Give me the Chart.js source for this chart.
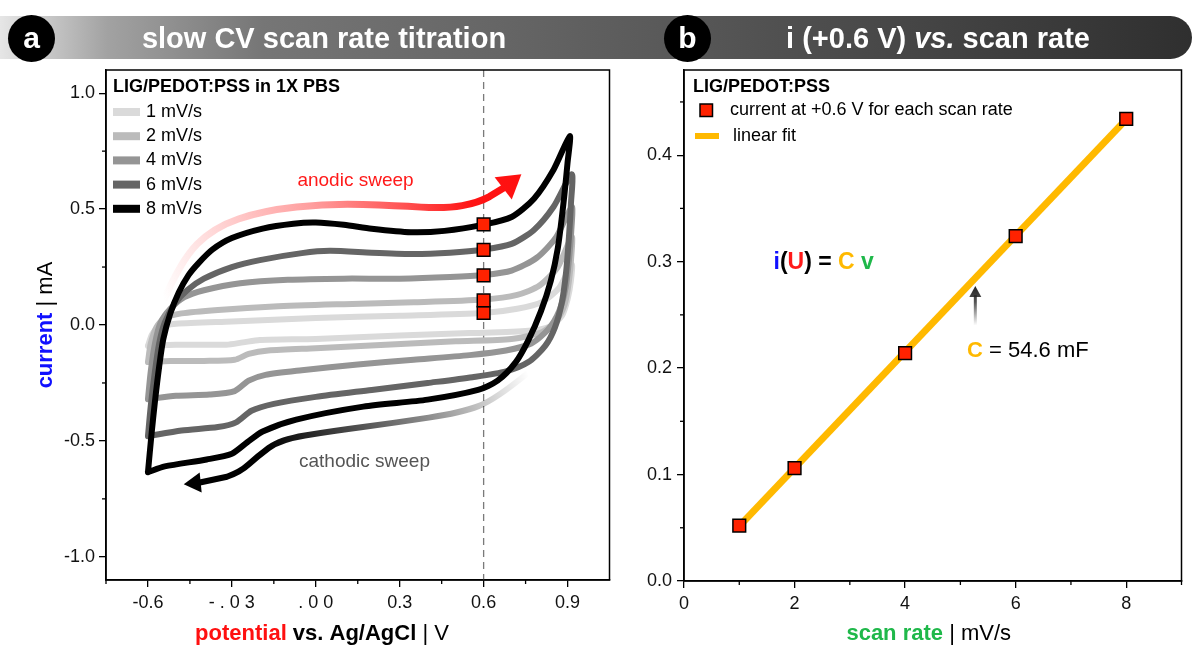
<!DOCTYPE html>
<html>
<head>
<meta charset="utf-8">
<script src="https://cdn.jsdelivr.net/npm/chart.js@4.4.0/dist/chart.umd.min.js"></script>
<style>
  html, body { margin: 0; padding: 0; background: #fff; width: 1192px; height: 648px; overflow: hidden; }
  body { font-family: "Liberation Sans", Arial, sans-serif; position: relative; }
  #ca { position: absolute; left: 0; top: 0; }
  #cb { position: absolute; left: 620px; top: 0; }
  .bar { position: absolute; left: 0; top: 16px; width: 1192px; height: 43px; border-radius: 0 22px 22px 0;
         background: linear-gradient(90deg, #e6e6e6 0%, #a2a2a2 9%, #767676 22%, #636363 45%, #4c4c4c 70%, #2f2f2f 100%); }
  .badge { position: absolute; top: 15px; width: 47px; height: 47px; border-radius: 50%; background: #000; color: #fff;
           font: bold 30px "Liberation Sans", Arial, sans-serif; text-align: center; line-height: 45px; }
  .ttl { position: absolute; top: 22px; height: 34px; line-height: 34px; color: #fff; white-space: nowrap;
         font: bold 29px "Liberation Sans", Arial, sans-serif; transform: translateX(-50%); }
</style>
</head>
<body>
<canvas id="ca" width="620" height="648"></canvas>
<canvas id="cb" width="572" height="648"></canvas>
<div class="bar"></div>
<div class="badge" style="left:8px">a</div>
<div class="ttl" style="left:324px">slow CV scan rate titration</div>
<div class="badge" style="left:664px">b</div>
<div class="ttl" style="left:938px">i (+0.6 V) <i>vs.</i> scan rate</div>
<script>
// ---- data: CV loops (potential V vs Ag/AgCl, current mA) ----
const scanRateLabels = ['1 mV/s', '2 mV/s', '4 mV/s', '6 mV/s', '8 mV/s'];

const cv1Potential = [-0.6, -0.585, -0.56, -0.5, -0.3, 0.0, 0.3, 0.6, 0.72, 0.81, 0.87, 0.915,
  0.912, 0.9, 0.88, 0.84, 0.76, 0.55, 0.3, 0.0, -0.2, -0.26, -0.32, -0.5, -0.6];
const cv1Current = [-0.09, -0.04, -0.01, 0.005, 0.015, 0.03, 0.04, 0.052, 0.07, 0.1, 0.16, 0.26,
  0.19, 0.11, 0.04, -0.005, -0.025, -0.035, -0.045, -0.06, -0.065, -0.075, -0.085, -0.085, -0.09];

const cv2Potential = [-0.6, -0.59, -0.57, -0.54, -0.48, -0.35, -0.15, 0.1, 0.35, 0.6, 0.72, 0.8, 0.865, 0.915,
  0.913, 0.905, 0.89, 0.86, 0.81, 0.7, 0.5, 0.25, 0.0, -0.17, -0.24, -0.29, -0.4, -0.52, -0.6];
const cv2Current = [-0.16, -0.08, -0.01, 0.03, 0.05, 0.065, 0.08, 0.09, 0.098, 0.11, 0.13, 0.17, 0.25, 0.38,
  0.29, 0.19, 0.09, 0.02, -0.03, -0.06, -0.07, -0.085, -0.1, -0.11, -0.125, -0.15, -0.155, -0.155, -0.16];

const cv4Potential = [-0.6, -0.59, -0.575, -0.555, -0.52, -0.47, -0.4, -0.27, -0.1, 0.1, 0.3, 0.48, 0.6, 0.7, 0.79, 0.86, 0.915,
  0.913, 0.905, 0.893, 0.87, 0.83, 0.77, 0.68, 0.55, 0.35, 0.15, -0.05, -0.18, -0.24, -0.29, -0.38, -0.5, -0.6];
const cv4Current = [-0.32, -0.2, -0.08, 0.01, 0.07, 0.12, 0.15, 0.18, 0.195, 0.2, 0.2, 0.207, 0.216, 0.235, 0.29, 0.38, 0.51,
  0.4, 0.28, 0.16, 0.06, -0.02, -0.08, -0.11, -0.13, -0.15, -0.17, -0.195, -0.215, -0.24, -0.285, -0.3, -0.305, -0.32];

const cv6Potential = [-0.6, -0.59, -0.575, -0.56, -0.54, -0.505, -0.46, -0.4, -0.3, -0.2, -0.05, 0.05, 0.2, 0.35, 0.48, 0.6, 0.7, 0.78, 0.85, 0.915,
  0.912, 0.905, 0.895, 0.88, 0.855, 0.82, 0.76, 0.68, 0.56, 0.4, 0.2, 0.0, -0.15, -0.23, -0.285, -0.35, -0.48, -0.6];
const cv6Current = [-0.48, -0.35, -0.2, -0.08, 0.01, 0.09, 0.15, 0.2, 0.25, 0.28, 0.31, 0.32, 0.312, 0.306, 0.312, 0.326, 0.35, 0.41, 0.51, 0.65,
  0.52, 0.38, 0.23, 0.1, -0.01, -0.09, -0.16, -0.2, -0.225, -0.25, -0.28, -0.31, -0.34, -0.37, -0.42, -0.44, -0.455, -0.48];

const cv8Potential = [-0.6, -0.588, -0.575, -0.56, -0.545, -0.52, -0.49, -0.455, -0.42, -0.37, -0.3, -0.19, -0.08, 0.0, 0.1, 0.2, 0.34, 0.46, 0.6, 0.7, 0.78, 0.85, 0.908,
  0.9, 0.885, 0.865, 0.84, 0.805, 0.76, 0.715, 0.65, 0.58, 0.4, 0.17, -0.07, -0.19, -0.245, -0.3, -0.39, -0.54, -0.6];
const cv8Current = [-0.635, -0.48, -0.33, -0.18, -0.06, 0.05, 0.14, 0.215, 0.266, 0.325, 0.375, 0.416, 0.437, 0.442, 0.432, 0.415, 0.4, 0.406, 0.433, 0.466, 0.545, 0.67, 0.815,
  0.7, 0.52, 0.33, 0.19, 0.06, -0.065, -0.16, -0.24, -0.28, -0.322, -0.352, -0.408, -0.459, -0.506, -0.555, -0.58, -0.61, -0.635];

// ---- data: current at +0.6 V vs scan rate ----
const samplePotential = 0.6;
const scanRates = [1, 2, 4, 6, 8];
const currentAt06 = [0.052, 0.106, 0.214, 0.324, 0.434];
const fitRates = [1, 8];
const fitCurrent = [0.0515, 0.4337];

// ---- ticks ----
const potentialTicks = [-0.6, -0.3, 0.0, 0.3, 0.6, 0.9];
const potentialTickLabels = ['-0.6', '- . 0 3', '. 0 0', '0.3', '0.6', '0.9'];
const potentialMinor = [-0.75, -0.45, -0.15, 0.15, 0.45, 0.75];
const currentTicks = [-1.0, -0.5, 0.0, 0.5, 1.0];
const currentMinor = [-0.75, -0.25, 0.25, 0.75];
const rateTicks = [0, 2, 4, 6, 8];
const rateMinor = [1, 3, 5, 7, 9];
const i06Ticks = [0, 0.1, 0.2, 0.3, 0.4];
const i06Minor = [0.05, 0.15, 0.25, 0.35, 0.45];

// ---- annotation paths (data units) ----
const anodicPotential = [-0.543, -0.482, -0.365, -0.188, 0.05, 0.287, 0.465, 0.582, 0.66, 0.735];
const anodicCurrent = [0.107, 0.279, 0.421, 0.494, 0.524, 0.515, 0.502, 0.528, 0.58, 0.65];
const cathodicPotential = [0.759, 0.642, 0.521, 0.287, 0.05, -0.128, -0.209, -0.27, -0.365, -0.472];
const cathodicCurrent = [-0.206, -0.322, -0.378, -0.421, -0.459, -0.494, -0.567, -0.635, -0.674, -0.687];

// ---- styles ----
const FONT = '"Liberation Sans", Arial, sans-serif';
const cvColors = ['#dadada', '#bbbbbb', '#959595', '#656565', '#000000'];
const RED = '#ff2200';
const ORANGE = '#ffb900';
const GREEN = '#1fb84a';
const BLUE = '#1010ff';

Chart.defaults.font.family = FONT;
Chart.defaults.font.size = 18;
Chart.defaults.color = '#111';

const pts = (xs, ys) => xs.map((x, i) => ({ x, y: ys[i] }));

function richText(ctx, parts, x, y, align) {
  ctx.save();
  ctx.textBaseline = 'middle';
  ctx.textAlign = 'left';
  let total = 0;
  parts.forEach(p => { ctx.font = p[1]; total += ctx.measureText(p[0]).width; });
  let cx = align === 'center' ? x - total / 2 : x;
  parts.forEach(p => {
    ctx.font = p[1];
    ctx.fillStyle = p[2];
    ctx.fillText(p[0], cx, y);
    cx += ctx.measureText(p[0]).width;
  });
  ctx.restore();
}

function frame(chart, xMinor, yMinor) {
  const { ctx, chartArea: a, scales } = chart;
  ctx.save();
  ctx.strokeStyle = '#000';
  ctx.lineWidth = 1.5;
  ctx.strokeRect(a.left, a.top, a.width, a.height);
  ctx.lineWidth = 1.3;
  xMinor.forEach(v => {
    const p = scales.x.getPixelForValue(v);
    ctx.beginPath(); ctx.moveTo(p, a.bottom); ctx.lineTo(p, a.bottom + 4); ctx.stroke();
  });
  yMinor.forEach(v => {
    const p = scales.y.getPixelForValue(v);
    ctx.beginPath(); ctx.moveTo(a.left, p); ctx.lineTo(a.left - 4, p); ctx.stroke();
  });
  ctx.restore();
}

function gradientArrow(chart, xs, ys, stops, width, headLen, headHalf) {
  const { ctx, scales } = chart;
  const p = xs.map((v, i) => [scales.x.getPixelForValue(v), scales.y.getPixelForValue(ys[i])]);
  const n = p.length;
  const tip = p[n - 1], prev = p[n - 2];
  const dx = tip[0] - prev[0], dy = tip[1] - prev[1];
  const len = Math.hypot(dx, dy);
  const ux = dx / len, uy = dy / len;
  const base = [tip[0] - ux * headLen, tip[1] - uy * headLen];
  const g = ctx.createLinearGradient(p[0][0], p[0][1], tip[0], tip[1]);
  stops.forEach(s => g.addColorStop(s[0], s[1]));
  ctx.save();
  ctx.strokeStyle = g;
  ctx.fillStyle = g;
  ctx.lineWidth = width;
  ctx.lineCap = 'butt';
  ctx.lineJoin = 'round';
  ctx.beginPath();
  ctx.moveTo(p[0][0], p[0][1]);
  for (let i = 1; i < n - 2; i++) {
    const mx = (p[i][0] + p[i + 1][0]) / 2, my = (p[i][1] + p[i + 1][1]) / 2;
    ctx.quadraticCurveTo(p[i][0], p[i][1], mx, my);
  }
  ctx.lineTo(base[0] + ux * 2, base[1] + uy * 2);
  ctx.stroke();
  ctx.beginPath();
  ctx.moveTo(tip[0], tip[1]);
  ctx.lineTo(base[0] - uy * headHalf, base[1] + ux * headHalf);
  ctx.lineTo(base[0] + uy * headHalf, base[1] - ux * headHalf);
  ctx.closePath();
  ctx.fill();
  ctx.restore();
}

// ── panel a: CV loops
const cvSeries = [
  [cv1Potential, cv1Current], [cv2Potential, cv2Current], [cv4Potential, cv4Current],
  [cv6Potential, cv6Current], [cv8Potential, cv8Current]
];

const cvDecor = {
  id: 'cvDecor',
  beforeDatasetsDraw(chart) {
    const { ctx, chartArea: a, scales } = chart;
    const px = scales.x.getPixelForValue(samplePotential);
    ctx.save();
    ctx.strokeStyle = '#7a7a7a';
    ctx.lineWidth = 1.3;
    ctx.setLineDash([7, 5]);
    ctx.beginPath(); ctx.moveTo(px, a.top); ctx.lineTo(px, a.bottom); ctx.stroke();
    ctx.restore();
  },
  afterDatasetsDraw(chart) {
    const { ctx, scales } = chart;
    gradientArrow(chart, anodicPotential, anodicCurrent,
      [[0, 'rgba(255,40,40,0)'], [0.45, 'rgba(255,40,40,0.45)'], [0.85, 'rgba(255,20,20,1)'], [1, '#ff1010']], 7, 23, 14);
    gradientArrow(chart, cathodicPotential, cathodicCurrent,
      [[0, 'rgba(0,0,0,0)'], [0.3, 'rgba(0,0,0,0.45)'], [0.75, 'rgba(0,0,0,1)'], [1, '#000']], 6, 17, 10);
    ctx.save();
    ctx.font = `19px ${FONT}`;
    ctx.textAlign = 'center';
    ctx.textBaseline = 'middle';
    ctx.fillStyle = '#ff1a1a';
    ctx.fillText('anodic sweep', scales.x.getPixelForValue(0.142), scales.y.getPixelForValue(0.622));
    ctx.fillStyle = '#555';
    ctx.fillText('cathodic sweep', scales.x.getPixelForValue(0.174), scales.y.getPixelForValue(-0.592));
    ctx.restore();
  },
  afterDraw(chart) {
    const { ctx, chartArea: a } = chart;
    frame(chart, potentialMinor, currentMinor);
    // legend
    ctx.save();
    ctx.textBaseline = 'middle';
    ctx.textAlign = 'left';
    ctx.fillStyle = '#000';
    ctx.font = `bold 18px ${FONT}`;
    ctx.fillText('LIG/PEDOT:PSS in 1X PBS', a.left + 7, a.top + 17);
    ctx.font = `18px ${FONT}`;
    scanRateLabels.forEach((lab, i) => {
      const y = a.top + 42 + i * 24.2;
      ctx.fillStyle = cvColors[i];
      ctx.fillRect(a.left + 7, y - 4, 27, 8);
      ctx.fillStyle = '#000';
      ctx.fillText(lab, a.left + 40, y);
    });
    ctx.restore();
    // axis titles
    richText(ctx, [['potential', `bold 22px ${FONT}`, '#ff1010'], [' vs. Ag/AgCl', `bold 22px ${FONT}`, '#000'],
      [' | V', `22px ${FONT}`, '#000']], 322, 634, 'center');
    ctx.save();
    ctx.translate(46, (a.top + a.bottom) / 2);
    ctx.rotate(-Math.PI / 2);
    richText(ctx, [['current', `bold 22px ${FONT}`, BLUE], [' | mA', `22px ${FONT}`, '#000']], 0, 0, 'center');
    ctx.restore();
  }
};

const axisBase = {
  grid: { drawOnChartArea: false, drawTicks: true, tickLength: 7, color: '#000', lineWidth: 1.3 },
  border: { display: true, color: '#000', width: 1.5 }
};

new Chart(document.getElementById('ca'), {
  type: 'scatter',
  data: {
    datasets: cvSeries.map((s, i) => ({
      label: scanRateLabels[i],
      data: pts(s[0], s[1]),
      showLine: true,
      borderColor: cvColors[i],
      borderWidth: 6,
      borderJoinStyle: 'round',
      borderCapStyle: 'round',
      pointRadius: 0,
      tension: 0.25,
      order: 10 - i
    })).concat([{
      label: 'i at +0.6 V',
      data: pts(scanRates.map(() => samplePotential), currentAt06),
      pointStyle: 'rect',
      pointRadius: 9,
      backgroundColor: RED,
      borderColor: '#000',
      borderWidth: 1.5,
      showLine: false,
      order: 0
    }])
  },
  options: {
    responsive: false,
    devicePixelRatio: 1,
    animation: false,
    events: [],
    layout: { padding: { top: 70, right: 8, left: 0, bottom: 0 } },
    plugins: { legend: { display: false }, tooltip: { enabled: false } },
    scales: {
      x: {
        ...axisBase, min: -0.75, max: 1.05,
        afterFit: s => { s.height = 68; },
        afterBuildTicks: s => { s.ticks = potentialTicks.map(v => ({ value: v })); },
        ticks: { padding: 5, maxRotation: 0, autoSkip: false, color: '#111', callback: (v, i) => potentialTickLabels[i] }
      },
      y: {
        ...axisBase, min: -1.1, max: 1.1,
        afterFit: s => { s.width = 106; },
        afterBuildTicks: s => { s.ticks = currentTicks.map(v => ({ value: v })); },
        ticks: { padding: 4, autoSkip: false, color: '#111', callback: v => v.toFixed(1) }
      }
    }
  },
  plugins: [cvDecor]
});

// ── panel b: current at +0.6 V vs scan rate
const rateDecor = {
  id: 'rateDecor',
  afterDatasetsDraw(chart) {
    const { ctx, scales } = chart;
    gradientArrow(chart, [5.27, 5.27], [0.24, 0.277],
      [[0, 'rgba(40,40,40,0)'], [0.6, 'rgba(40,40,40,0.8)'], [1, '#222']], 3, 11, 6);
    richText(ctx, [['i', `bold 23px ${FONT}`, BLUE], ['(', `bold 23px ${FONT}`, '#000'], ['U', `bold 23px ${FONT}`, '#ff1a1a'],
      [')', `bold 23px ${FONT}`, '#000'], [' = ', `bold 23px ${FONT}`, '#000'], ['C', `bold 23px ${FONT}`, ORANGE],
      [' v', `bold 23px ${FONT}`, GREEN]], scales.x.getPixelForValue(1.62), scales.y.getPixelForValue(0.299), 'left');
    richText(ctx, [['C', `bold 22px ${FONT}`, ORANGE], [' = 54.6 mF', `22px ${FONT}`, '#000']],
      scales.x.getPixelForValue(5.12), scales.y.getPixelForValue(0.2165), 'left');
  },
  afterDraw(chart) {
    const { ctx, chartArea: a } = chart;
    frame(chart, rateMinor, i06Minor);
    ctx.save();
    ctx.textBaseline = 'middle';
    ctx.textAlign = 'left';
    ctx.fillStyle = '#000';
    ctx.font = `bold 18px ${FONT}`;
    ctx.fillText('LIG/PEDOT:PSS', a.left + 9, a.top + 17);
    ctx.font = `18px ${FONT}`;
    ctx.fillStyle = RED;
    ctx.strokeStyle = '#000';
    ctx.lineWidth = 1.5;
    ctx.fillRect(a.left + 16, a.top + 34, 12.5, 12.5);
    ctx.strokeRect(a.left + 16, a.top + 34, 12.5, 12.5);
    ctx.fillStyle = '#000';
    ctx.fillText('current at +0.6 V for each scan rate', a.left + 46, a.top + 40.5);
    ctx.fillStyle = ORANGE;
    ctx.fillRect(a.left + 11, a.top + 63, 24, 6);
    ctx.fillStyle = '#000';
    ctx.fillText('linear fit', a.left + 49, a.top + 66);
    ctx.restore();
    richText(ctx, [['scan rate', `bold 22px ${FONT}`, GREEN], [' | mV/s', `22px ${FONT}`, '#000']],
      (a.left + a.right) / 2 - 4, 634, 'center');
  }
};

new Chart(document.getElementById('cb'), {
  type: 'scatter',
  data: {
    datasets: [{
      label: 'current at +0.6 V for each scan rate',
      data: pts(scanRates, currentAt06),
      pointStyle: 'rect',
      pointRadius: 9,
      backgroundColor: RED,
      borderColor: '#000',
      borderWidth: 1.5,
      showLine: false,
      order: 0
    }, {
      label: 'linear fit',
      data: pts(fitRates, fitCurrent),
      showLine: true,
      borderColor: ORANGE,
      borderWidth: 7,
      pointRadius: 0,
      order: 1
    }]
  },
  options: {
    responsive: false,
    devicePixelRatio: 1,
    animation: false,
    events: [],
    layout: { padding: { top: 70, right: 3, left: 0, bottom: 0 } },
    plugins: { legend: { display: false }, tooltip: { enabled: false } },
    scales: {
      x: {
        ...axisBase, min: 0, max: 9,
        afterFit: s => { s.height = 67; },
        afterBuildTicks: s => { s.ticks = rateTicks.map(v => ({ value: v })); },
        ticks: { padding: 5, maxRotation: 0, autoSkip: false, color: '#111', callback: v => String(v) }
      },
      y: {
        ...axisBase, min: 0, max: 0.48,
        afterFit: s => { s.width = 64; },
        afterBuildTicks: s => { s.ticks = i06Ticks.map(v => ({ value: v })); },
        ticks: { padding: 5, autoSkip: false, color: '#111', callback: v => v.toFixed(1) }
      }
    }
  },
  plugins: [rateDecor]
});
</script>
</body>
</html>
